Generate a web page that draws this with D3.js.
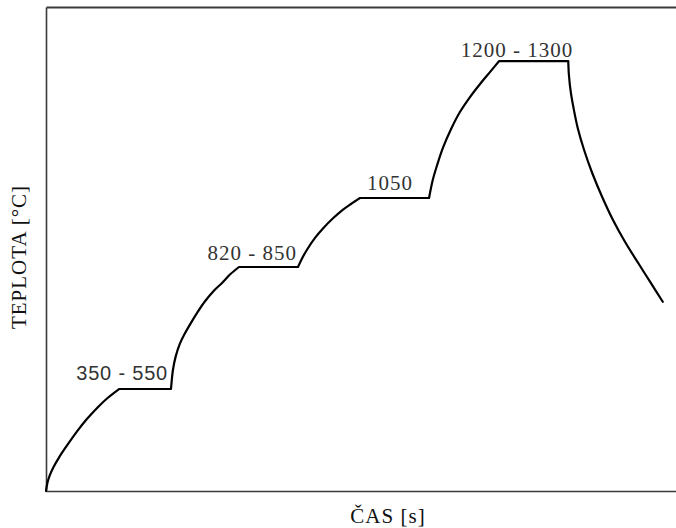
<!DOCTYPE html>
<html>
<head>
<meta charset="utf-8">
<script src="https://cdn.jsdelivr.net/npm/d3@7"></script>
<style>
  body { margin: 0; background: #fff; }
  .frame .domain { stroke: #3a3a3a; }
  .curve { fill: none; stroke: #000; stroke-width: 2.2px; stroke-linejoin: round; stroke-linecap: round; }
  .lbl { font-family: "Liberation Serif", serif; font-size: 21px; fill: #333; letter-spacing: 1px; }
  .lbl.sans { font-family: "Liberation Sans", sans-serif; font-size: 20px; letter-spacing: 0.8px; }
  .title { font-family: "Liberation Serif", serif; font-size: 21px; fill: #111; letter-spacing: 1px; }
</style>
</head>
<body>
<svg width="676" height="528"></svg>
<script>
// time (relative units) and temperature (relative units) of the heating curve
const cas = [0, 0.23, 0.58, 1.16, 2.08, 3.37, 4.87, 6.49, 8.11, 9.73, 11.59,
  19.84,
  20.16, 20.6, 21.24, 21.99, 23.08, 24.16, 25.24, 26.54, 27.94, 29.24, 30.63,
  40.0,
  40.5, 41.4, 42.7, 44.0, 45.6, 47.1, 48.4, 49.84,
  60.8,
  61.4, 62.1, 63.0, 64.3, 65.7, 67.3, 68.9, 70.5, 71.9,
  82.9,
  83.0, 83.3, 83.8, 84.4, 85.4, 86.7, 88.3, 90.0, 91.9, 94.0, 95.9, 97.9];
const teplota = [0, 1.69, 3.16, 4.86, 6.96, 9.48, 12.23, 14.86, 17.17, 19.17, 21.07,
  21.07,
  25.1, 27.87, 30.39, 32.42, 34.9, 37.17, 39.21, 41.24, 42.99, 44.77, 46.28,
  46.28,
  47.7, 49.8, 52.3, 54.3, 56.4, 58.1, 59.3, 60.54,
  60.54,
  64.3, 67.4, 70.9, 74.8, 78.3, 81.4, 84.1, 86.6, 88.8,
  88.8,
  86.0, 82.4, 78.7, 75.0, 70.5, 65.7, 60.7, 56.0, 51.5, 47.1, 43.2, 39.1];

// index where each holding plateau starts (plateau runs to the next point)
const plateauStart = [10, 22, 31, 41];
const plateauLabels = ["350 - 550", "820 - 850", "1050", "1200 - 1300"];
// label nudges relative to plateau end
const labelDx = [-3, -1, -16, 5];
const labelDy = [-9, -7, -8, -4];

const svg = d3.select("svg"),
  width = +svg.attr("width"),
  height = +svg.attr("height");

const x = d3.scaleLinear().domain([0, 100]).range([46, 676]);
const y = d3.scaleLinear().domain([0, 100]).range([491, 7]);

// frame: top, left, bottom lines with no ticks
svg.append("g").attr("class", "frame")
  .attr("transform", "translate(0," + y(0) + ")")
  .call(d3.axisBottom(x).ticks(0).tickSize(0))
  .select(".domain").attr("stroke-width", 1.6);
svg.append("g").attr("class", "frame")
  .attr("transform", "translate(" + x(0) + ",0)")
  .call(d3.axisLeft(y).ticks(0).tickSize(0))
  .select(".domain").attr("stroke-width", 1.6);
svg.append("g").attr("class", "frame")
  .attr("transform", "translate(0," + y(100) + ")")
  .call(d3.axisTop(x).ticks(0).tickSize(0))
  .select(".domain").attr("stroke", "#222").attr("stroke-width", 2.2);

let pts = cas.map((c, i) => [c, teplota[i]]);

// split into curved ramps and straight plateaus
let segs = [], from = 0;
plateauStart.forEach(s => {
  segs.push({ p: pts.slice(from, s + 1), curved: true });
  segs.push({ p: pts.slice(s, s + 2), curved: false });
  from = s + 1;
});
segs.push({ p: pts.slice(from), curved: true });

let lineCurved = d3.line().x(d => x(d[0])).y(d => y(d[1])).curve(d3.curveCatmullRom.alpha(0.5));
let lineStraight = d3.line().x(d => x(d[0])).y(d => y(d[1]));

let dstr = segs.map((s, i) => {
  let d = (s.curved ? lineCurved : lineStraight)(s.p);
  return i === 0 ? d : d.replace(/^M[^A-Za-z]*/, "");
}).join("");

svg.append("path").attr("class", "curve").attr("d", dstr);

svg.selectAll("text.lbl")
  .data(plateauStart)
  .enter().append("text")
  .attr("class", (d, i) => i === 0 ? "lbl sans" : "lbl")
  .attr("text-anchor", "end")
  .attr("x", (d, i) => x(cas[d + 1]) + labelDx[i])
  .attr("y", (d, i) => y(teplota[d]) + labelDy[i])
  .text((d, i) => plateauLabels[i]);

svg.append("text").attr("class", "title")
  .attr("text-anchor", "middle")
  .attr("x", 388).attr("y", 523)
  .text("ČAS [s]");

svg.append("text").attr("class", "title")
  .attr("text-anchor", "middle")
  .attr("transform", "translate(26,257) rotate(-90)")
  .text("TEPLOTA [°C]");
</script>
</body>
</html>
